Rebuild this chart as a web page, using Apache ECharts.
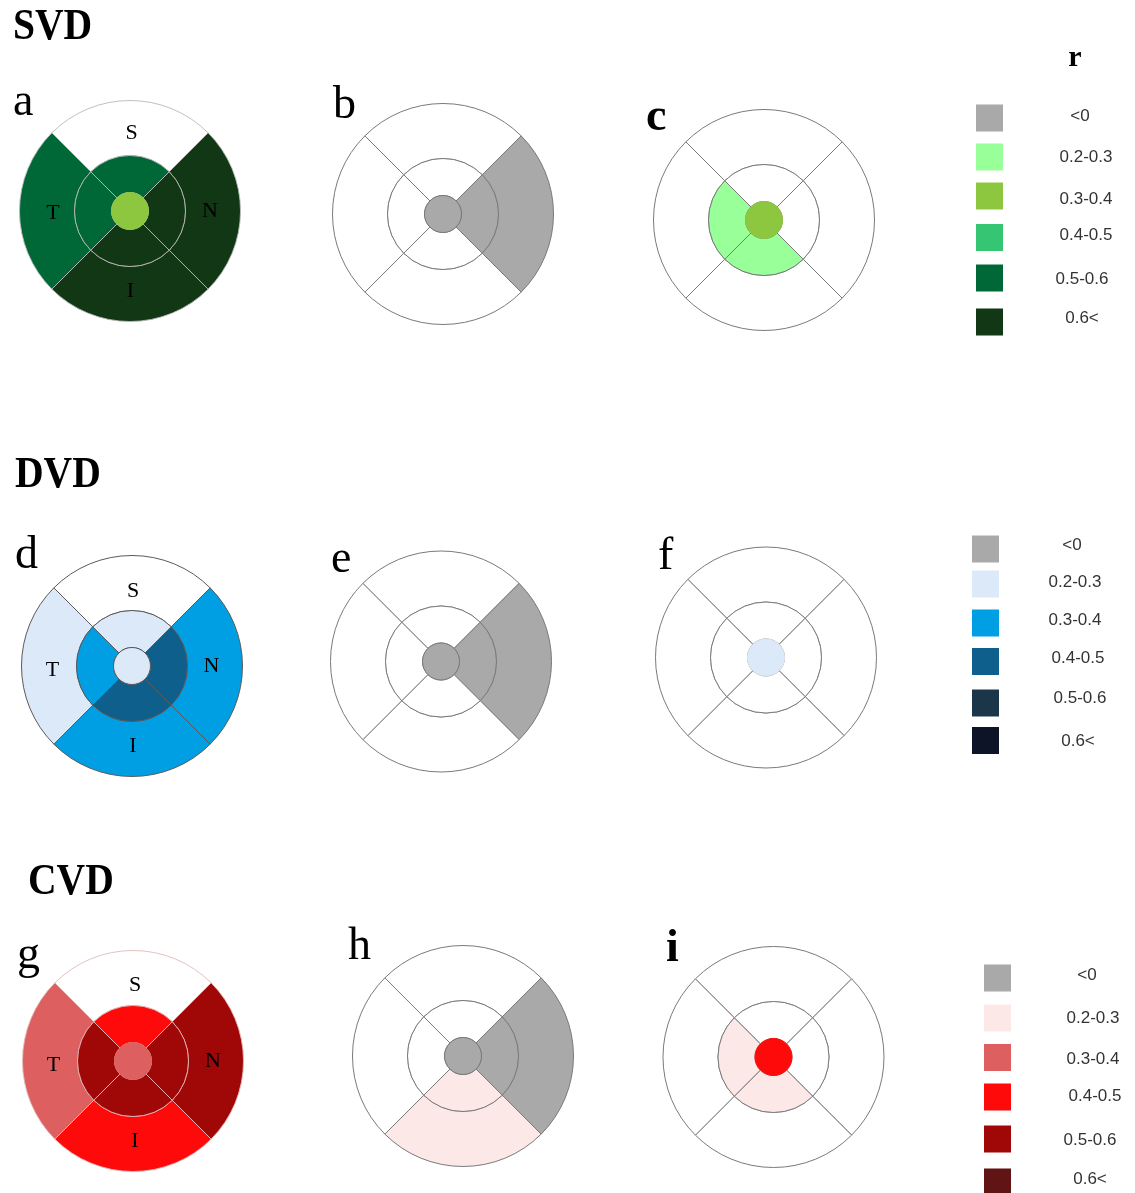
<!DOCTYPE html>
<html>
<head>
<meta charset="utf-8">
<script src="https://cdn.jsdelivr.net/npm/echarts@6/dist/echarts.min.js"></script>
<style>
html,body{margin:0;padding:0;background:#fff;}
#chart{width:1135px;height:1193px;}
</style>
</head>
<body>
<div id="chart"></div>
<script>
// ---------- DATA ----------
const categories = ['<0', '0.2-0.3', '0.3-0.4', '0.4-0.5', '0.5-0.6', '0.6<'];
const svdColors = ['#a9a9a9', '#99ff99', '#8dc63f', '#36c572', '#006837', '#113714'];
const dvdColors = ['#a9a9a9', '#dce9f8', '#009fe3', '#0f5f8d', '#1b3648', '#0d1428'];
const cvdColors = ['#a9a9a9', '#fde8e8', '#dd5f5f', '#ff0a0a', '#a00808', '#611414'];
const sectors = ['S', 'N', 'I', 'T'];           // order: top, right, bottom, left
const groupTitles = ['SVD', 'DVD', 'CVD'];
const panelLetters = ['a', 'b', 'c', 'd', 'e', 'f', 'g', 'h', 'i'];
const legendTitle = 'r';

// per panel: center value, inner ring [S,N,I,T], outer ring [S,N,I,T]; null = not significant
const centerValues = ['0.3-0.4', '<0', '0.3-0.4', '0.2-0.3', '<0', '0.2-0.3', '0.3-0.4', '<0', '0.4-0.5'];
const innerValues = [
  ['0.5-0.6', '0.6<', '0.6<', '0.5-0.6'],
  [null, '<0', null, null],
  [null, null, '0.2-0.3', '0.2-0.3'],
  ['0.2-0.3', '0.4-0.5', '0.4-0.5', '0.3-0.4'],
  [null, '<0', null, null],
  [null, null, null, null],
  ['0.4-0.5', '0.5-0.6', '0.5-0.6', '0.5-0.6'],
  [null, '<0', '0.2-0.3', null],
  [null, null, '0.2-0.3', '0.2-0.3']
];
const outerValues = [
  [null, '0.6<', '0.6<', '0.5-0.6'],
  [null, '<0', null, null],
  [null, null, null, null],
  [null, '0.3-0.4', '0.3-0.4', '0.2-0.3'],
  [null, '<0', null, null],
  [null, null, null, null],
  [null, '0.5-0.6', '0.4-0.5', '0.3-0.4'],
  [null, '<0', '0.2-0.3', null],
  [null, null, null, null]
];

// ---------- LAYOUT / STYLE ----------
const palettes = [svdColors, dvdColors, cvdColors];
const panelCenters = [
  [130, 211], [443, 214], [764, 220],
  [132, 666], [441, 661.5], [766, 657.5],
  [133, 1061], [463, 1056], [773.5, 1057]
];
const R0 = 18.5, R1 = 55.5, R2 = 110.5;
const panelStroke = ['rgba(185,185,185,0.9)', '#7a7a7a', '#7a7a7a',
                     '#5a5a5a', '#7a7a7a', '#7a7a7a',
                     'rgba(225,185,185,0.9)', '#7a7a7a', '#7a7a7a'];
const centerStroke = [false, true, false, true, true, false, false, true, false];
const letterPos = [
  [13, 103], [333, 106], [646, 118],
  [15, 556], [331, 560], [658, 557],
  [17, 956], [348, 947], [666, 949]
];
const sectorLabelPos = [
  [[131.5, 133], [210, 211], [130.5, 291], [53, 213]],
  [[133, 591.5], [211.5, 666.5], [133, 746.5], [52.5, 670]],
  [[135, 985], [213, 1061.5], [135, 1141.5], [53.5, 1065]]
];
const titlePos = [[13, 27.5], [15, 476], [28, 883]];
const legendSquareX = [976, 972, 984];
const legendRowY = [
  [118, 157, 196, 237.5, 278, 322],
  [549, 584, 623, 661.5, 703, 740.5],
  [978, 1018, 1057.5, 1097, 1139, 1182]
];
const legendTextX = [
  [1080, 1086, 1086, 1086, 1082, 1082],
  [1072, 1075, 1075, 1078, 1080, 1078],
  [1087, 1093, 1093, 1095, 1090, 1090]
];
const legendTextY = [
  [116, 157, 199, 235, 279, 318],
  [545, 582, 620, 658, 698, 741],
  [975, 1018, 1059, 1096, 1140, 1179]
];

function colorOf(palette, v) {
  if (v === null) return '#ffffff';
  return palette[categories.indexOf(v)];
}

const series = [];
panelCenters.forEach((c, p) => {
  const pal = palettes[Math.floor(p / 3)];
  const base = {
    type: 'pie', silent: true, animation: false, center: c,
    startAngle: 135, clockwise: true,
    label: { show: false }, labelLine: { show: false },
    emphasis: { disabled: true }
  };
  series.push(Object.assign({}, base, {
    radius: [R1, R2], z: 1,
    data: outerValues[p].map((v, i) => ({
      name: sectors[i], value: 1,
      itemStyle: { color: colorOf(pal, v), borderColor: panelStroke[p], borderWidth: 1 }
    }))
  }));
  series.push(Object.assign({}, base, {
    radius: [R0, R1], z: 2,
    data: innerValues[p].map((v, i) => ({
      name: sectors[i], value: 1,
      itemStyle: { color: colorOf(pal, v), borderColor: panelStroke[p], borderWidth: 1 }
    }))
  }));
  const cc = colorOf(pal, centerValues[p]);
  series.push(Object.assign({}, base, {
    radius: [0, R0], z: 3,
    data: [{
      name: 'C', value: 1,
      itemStyle: { color: cc, borderColor: centerStroke[p] ? panelStroke[p] : cc, borderWidth: 1 }
    }]
  }));
});

const graphics = [];
groupTitles.forEach((t, g) => {
  graphics.push({
    type: 'text', x: titlePos[g][0], y: titlePos[g][1], scaleX: 0.9, z: 10,
    style: { text: t, fill: '#000', font: 'bold 44px "Liberation Serif", "DejaVu Serif", serif',
             align: 'left', verticalAlign: 'middle' }
  });
});
panelLetters.forEach((l, p) => {
  graphics.push({
    type: 'text', x: letterPos[p][0], y: letterPos[p][1], z: 10,
    style: { text: l, fill: '#000',
             font: ((l === 'c' || l === 'i') ? 'bold ' : '') + '46px "Liberation Serif", "DejaVu Serif", serif',
             align: 'left', verticalAlign: 'middle' }
  });
});
[0, 1, 2].forEach(g => {
  sectors.forEach((s, i) => {
    graphics.push({
      type: 'text', x: sectorLabelPos[g][i][0], y: sectorLabelPos[g][i][1], z: 10,
      style: { text: s, fill: '#000', font: '22px "Liberation Serif", "DejaVu Serif", serif',
               align: 'center', verticalAlign: 'middle' }
    });
  });
});
graphics.push({
  type: 'text', x: 1075, y: 58, z: 10,
  style: { text: legendTitle, fill: '#000', font: 'bold 30px "Liberation Serif", serif',
           align: 'center', verticalAlign: 'middle' }
});
palettes.forEach((pal, g) => {
  categories.forEach((cat, k) => {
    const y = legendRowY[g][k];
    graphics.push({
      type: 'rect', z: 10,
      shape: { x: legendSquareX[g], y: y - 13.5, width: 27, height: 27 },
      style: { fill: pal[k] }
    });
    graphics.push({
      type: 'text', x: legendTextX[g][k], y: legendTextY[g][k], z: 10,
      style: { text: cat, fill: '#333333', font: '17px "Liberation Sans", Arial, sans-serif',
               align: 'center', verticalAlign: 'middle' }
    });
  });
});

const chart = echarts.init(document.getElementById('chart'), null, { renderer: 'canvas' });
chart.setOption({
  backgroundColor: '#ffffff',
  animation: false,
  series: series,
  graphic: graphics
});
</script>
</body>
</html>
